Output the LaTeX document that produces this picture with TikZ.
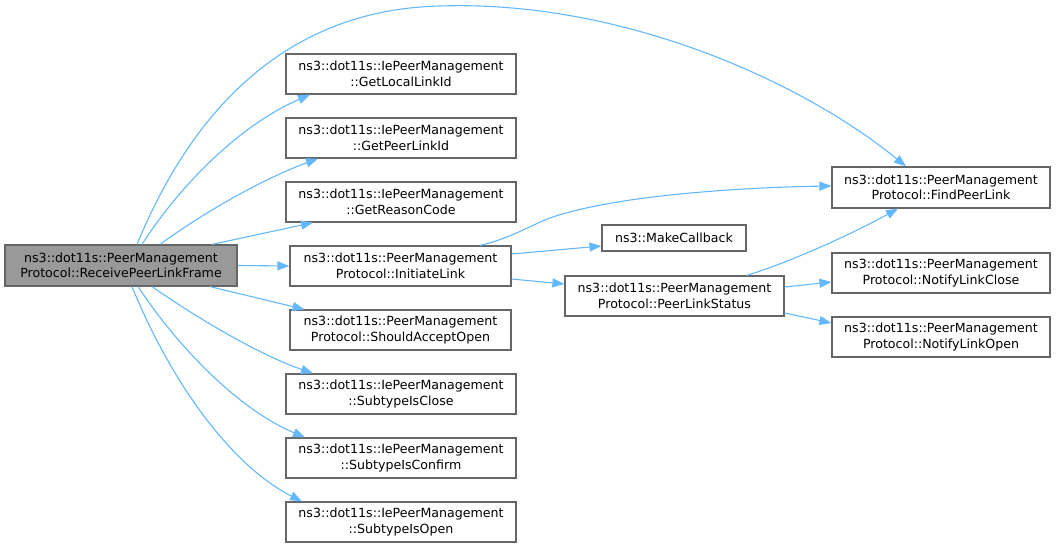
\documentclass[tikz,border=0pt]{standalone}
\usepackage{fontspec}
\setmainfont{DejaVu Sans}
\usetikzlibrary{arrows.meta}
\definecolor{edgeblue}{HTML}{63B8FF}
\definecolor{boxgray}{HTML}{666666}
\definecolor{mainfill}{HTML}{999999}
\begin{document}
\begin{tikzpicture}[x=1pt,y=-1pt,
  fn/.style={draw=boxgray,line width=1.2pt,fill=white,inner sep=0pt,align=center,
    font=\fontsize{12.6}{15.5}\selectfont,minimum height=40pt},
  edge/.style={draw=edgeblue,line width=1.1pt,-{Triangle[length=12pt,width=9pt]}}]
\useasboundingbox (0,0) rectangle (1056,548);
\node[fn,fill=mainfill,minimum width=232pt,minimum height=41pt] (main) at (121,265.5) {ns3::dot11s::PeerManagement\\Protocol::ReceivePeerLinkFrame};
\node[fn,minimum width=230pt] (gll) at (401,74) {ns3::dot11s::IePeerManagement\\::GetLocalLinkId};
\node[fn,minimum width=230pt] (gpl) at (401,138) {ns3::dot11s::IePeerManagement\\::GetPeerLinkId};
\node[fn,minimum width=230pt] (grc) at (401,202) {ns3::dot11s::IePeerManagement\\::GetReasonCode};
\node[fn,minimum width=221pt] (il) at (400.5,266) {ns3::dot11s::PeerManagement\\Protocol::InitiateLink};
\node[fn,minimum width=221pt] (sao) at (400.5,330) {ns3::dot11s::PeerManagement\\Protocol::ShouldAcceptOpen};
\node[fn,minimum width=230pt] (sic) at (401,394) {ns3::dot11s::IePeerManagement\\::SubtypeIsClose};
\node[fn,minimum width=230pt] (sicf) at (401,458) {ns3::dot11s::IePeerManagement\\::SubtypeIsConfirm};
\node[fn,minimum width=230pt] (sio) at (401,522) {ns3::dot11s::IePeerManagement\\::SubtypeIsOpen};
\node[fn,minimum width=144pt,minimum height=26pt] (mcb) at (674,238) {ns3::MakeCallback};
\node[fn,minimum width=219pt] (pls) at (674.5,296) {ns3::dot11s::PeerManagement\\Protocol::PeerLinkStatus};
\node[fn,minimum width=218pt,minimum height=41pt] (fpl) at (941,187.5) {ns3::dot11s::PeerManagement\\Protocol::FindPeerLink};
\node[fn,minimum width=218pt] (nlc) at (941,273) {ns3::dot11s::PeerManagement\\Protocol::NotifyLinkClose};
\node[fn,minimum width=218pt] (nlo) at (941,337) {ns3::dot11s::PeerManagement\\Protocol::NotifyLinkOpen};
% edges from main
\draw[edge] ([xshift=16pt]main.north) .. controls (180,140) and (265,10) .. (440,6)
  .. controls (620,0) and (800,80) .. ([xshift=-35pt]fpl.north);
\draw[edge] ([xshift=21pt]main.north) .. controls (180,185) and (240,125) .. ([xshift=-91pt]gll.south);
\draw[edge] ([xshift=39pt]main.north) .. controls (200,215) and (260,180) .. ([xshift=-83pt]gpl.south);
\draw[edge] ([xshift=91pt]main.north) -- ([xshift=-88pt]grc.south);
\draw[edge] (main.east) -- (il.west);
\draw[edge] ([xshift=89pt]main.south) -- ([xshift=-96pt]sao.north);
\draw[edge] ([xshift=31pt]main.south) .. controls (200,320) and (260,355) .. ([xshift=-88pt]sic.north);
\draw[edge] ([xshift=17pt]main.south) .. controls (180,350) and (240,410) .. ([xshift=-96pt]sicf.north);
\draw[edge] ([xshift=11pt]main.south) .. controls (170,380) and (230,465) .. ([xshift=-99pt]sio.north);
% edges from InitiateLink
\draw[edge] ([xshift=79.5pt]il.north) .. controls (520,236) and (535,220) .. (570,212)
  .. controls (640,193) and (760,187) .. ([yshift=1.5pt]fpl.west);
\draw[edge] ([yshift=12pt]il.east) -- ([yshift=-8pt]mcb.west);
\draw[edge] ([yshift=-13pt]il.east) -- ([yshift=12pt]pls.west);
% edges from PeerLinkStatus
\draw[edge] ([xshift=72.5pt]pls.north) .. controls (790,262) and (850,235) .. ([xshift=-43pt]fpl.south);
\draw[edge] ([yshift=9pt]pls.east) -- ([yshift=-9pt]nlc.west);
\draw[edge] ([yshift=-17pt]pls.east) -- ([yshift=14pt]nlo.west);
\end{tikzpicture}
\end{document}
